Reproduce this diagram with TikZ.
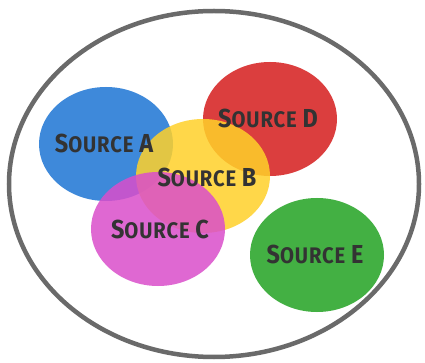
\documentclass[tikz,border=0pt]{standalone}
\usepackage{fontspec}
\setmainfont{Fira Sans}
\newfontfamily\labelfont[FakeStretch=0.9,LetterSpace=4]{Fira Sans}
\usetikzlibrary{shapes.geometric}
\definecolor{ringgray}{HTML}{6A6A6A}
\definecolor{cA}{HTML}{2A7DD6}
\definecolor{cB}{HTML}{FFD12A}
\definecolor{cC}{HTML}{DA4ECB}
\definecolor{cD}{HTML}{D82A2A}
\definecolor{cE}{HTML}{2FA82F}
\definecolor{txt}{HTML}{333333}
\newcommand{\srclabel}[1]{{\fontsize{26}{26}\selectfont S}{\fontsize{22.5}{22.5}\selectfont OURCE\ }{\fontsize{26}{26}\selectfont #1}}
\tikzset{
  blob/.style={ellipse, draw=none, fill opacity=0.9, minimum width=134pt, minimum height=114pt, inner sep=0pt},
  lbl/.style={text=txt, font=\labelfont\bfseries, inner sep=0pt, anchor=center}
}
\begin{document}
\begin{tikzpicture}[x=1pt,y=-1pt]
\useasboundingbox[fill=white] (0,0) rectangle (425,363);
\node[draw=ringgray, line width=4.5pt, ellipse, minimum width=410pt, minimum height=346pt, inner sep=0pt] (ring) at (214,184) {};
\node[blob, fill=cA] (A) at (106,144) {};
\node[blob, fill=cD] (D) at (270,119) {};
\node[blob, fill=cB, fill opacity=0.85] (B) at (203,176) {};
\node[blob, fill=cC, fill opacity=0.85] (C) at (158,229) {};
\node[blob, fill=cE] (E) at (317,255) {};
\node[lbl] (tA) at (104,143) {\srclabel{A}};
\node[lbl] (tD) at (268,118) {\srclabel{D}};
\node[lbl] (tB) at (207,177) {\srclabel{B}};
\node[lbl] (tC) at (160,229) {\srclabel{C}};
\node[lbl] (tE) at (315,254) {\srclabel{E}};
\end{tikzpicture}
\end{document}
